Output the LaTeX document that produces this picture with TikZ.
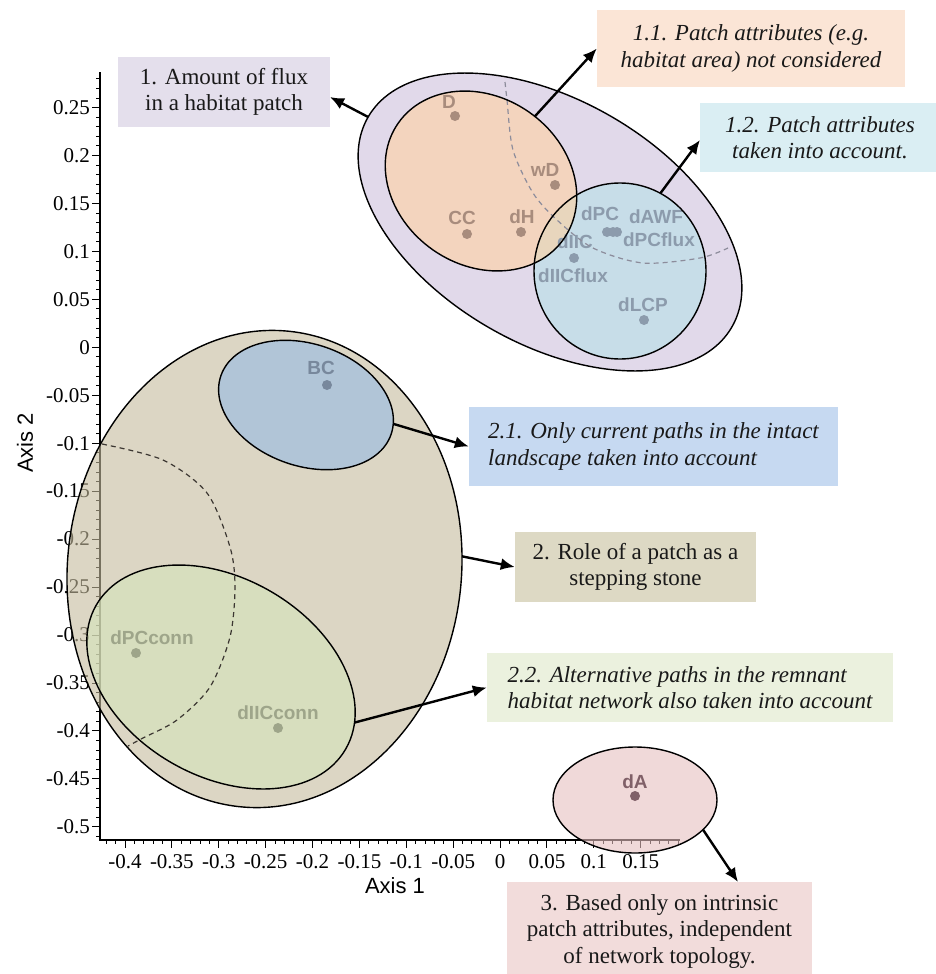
\documentclass[tikz,border=0pt]{standalone}
\usepackage{fontspec}
\setmainfont{Liberation Serif}
\newfontfamily\lsans{Liberation Sans}
\usetikzlibrary{arrows.meta}
\definecolor{purpleF}{RGB}{205,193,220}
\definecolor{orangeF}{RGB}{255,210,161}
\definecolor{cyanF}{RGB}{183,225,232}
\definecolor{tanF}{RGB}{198,188,157}
\definecolor{navyF}{RGB}{149,187,229}
\definecolor{greenF}{RGB}{213,228,186}
\definecolor{pinkF}{RGB}{230,193,193}
\definecolor{boxA}{RGB}{228,223,236}
\definecolor{boxAA}{RGB}{251,229,214}
\definecolor{boxAB}{RGB}{218,238,243}
\definecolor{boxBA}{RGB}{198,217,241}
\definecolor{boxB}{RGB}{221,217,196}
\definecolor{boxBB}{RGB}{235,241,222}
\definecolor{boxC}{RGB}{242,220,219}
\definecolor{lblO}{RGB}{168,140,125}
\definecolor{lblB}{RGB}{140,155,172}
\definecolor{lblN}{RGB}{120,136,156}
\definecolor{lblG}{RGB}{158,165,138}
\definecolor{lblP}{RGB}{128,96,104}
\definecolor{dashTop}{RGB}{140,140,155}
\definecolor{dashBot}{RGB}{60,55,50}
\begin{document}
\begin{tikzpicture}[x=1pt,y=-1pt,
  tbox/.style={inner sep=0pt, text=black!90, font=\fontsize{23}{26.5}\selectfont},
  itbox/.style={tbox, font=\fontsize{23}{26.5}\selectfont\itshape},
  ellline/.style={draw=black, line width=1.4pt},
  arr/.style={line width=2.4pt, -{Latex[length=14pt,width=12pt]}},
  ptdot/.style={circle, inner sep=0pt, minimum size=10pt},
  plbl/.style={font=\lsans\bfseries\fontsize{19}{19}\selectfont, inner sep=0pt},
  tk/.style={line width=0.9pt},
  tklbl/.style={font=\fontsize{21}{21}\selectfont, inner sep=0pt},
  dashline/.style={dash pattern=on 5pt off 4pt, line width=1.2pt},
  geoP/.style={shift={(550,222)}, rotate=-30},
  geoO/.style={shift={(481,181)}, rotate=-35},
  geoC/.style={shift={(620,271)}},
  geoT/.style={shift={(264.5,569)}, rotate=-6},
  geoN/.style={shift={(306,405)}, rotate=-19},
  geoG/.style={shift={(221,677)}, rotate=-30},
  geoK/.style={shift={(635,800)}},
]
\useasboundingbox (0,0) rectangle (935,974);
\fill[white] (0,0) rectangle (935,974);

% ---------- axes ----------
\coordinate (O) at (100,840);
\coordinate (Ytop) at (100,72);
\coordinate (Xend) at (680,840);
\draw[line width=1.2pt] (Ytop) -- (O) -- (Xend);
\foreach \m in {-51,...,28} \draw[tk] (100,{347.3-\m*9.59}) -- (96,{347.3-\m*9.59});
\foreach \k/\t in {5/0.25,4/0.2,3/0.15,2/0.1,1/0.05,0/0,-1/-0.05,-2/-0.1,-3/-0.15,-4/-0.2,-5/-0.25,-6/-0.3,-7/-0.35,-8/-0.4,-9/-0.45,-10/-0.5}
  {\draw[tk] (100,{347.3-\k*47.95}) -- (92,{347.3-\k*47.95});
   \node[tklbl,anchor=east] (yl\k) at (90,{347.3-\k*47.95}) {\t};}
\foreach \m in {-42,...,19} \draw[tk] ({500+\m*9.375},840) -- ({500+\m*9.375},844);
\foreach \k/\t in {-8/-0.4,-7/-0.35,-6/-0.3,-5/-0.25,-4/-0.2,-3/-0.15,-2/-0.1,-1/-0.05,0/0,1/0.05,2/0.1,3/0.15}
  {\draw[tk] ({500+\k*46.875},840) -- ({500+\k*46.875},848);
   \node[tklbl] (xl\k) at ({500+\k*46.875},862) {\t};}
\node[font=\lsans\fontsize{22}{22}\selectfont, inner sep=0pt] (ax1) at (395,886) {Axis 1};
\node[font=\lsans\fontsize{22}{22}\selectfont, inner sep=0pt, rotate=90] (ax2) at (25,443) {Axis 2};

% ---------- ellipse fills ----------
\fill[purpleF, fill opacity=.6, geoP] (0,0) ellipse [x radius=210, y radius=122];
\fill[cyanF, fill opacity=.6, geoC] (0,0) ellipse [x radius=86, y radius=88];
\fill[orangeF, fill opacity=.6, geoO] (0,0) ellipse [x radius=101, y radius=84];
\fill[tanF, fill opacity=.6, geoT] (0,0) ellipse [x radius=197, y radius=239];
\fill[navyF, fill opacity=.6, geoN] (0,0) ellipse [x radius=90, y radius=61];
\fill[greenF, fill opacity=.6, geoG] (0,0) ellipse [x radius=144, y radius=99];
\fill[pinkF, fill opacity=.6, geoK] (0,0) ellipse [x radius=82, y radius=53];

% ---------- points ----------
\node[ptdot, fill=lblO] (pD) at (455,116) {};
\node[plbl, text=lblO] (lD) at (449,102) {D};
\node[ptdot, fill=lblO] (pwD) at (555,185) {};
\node[plbl, text=lblO] (lwD) at (545,170) {wD};
\node[ptdot, fill=lblO] (pCC) at (467,234) {};
\node[plbl, text=lblO] (lCC) at (462,218) {CC};
\node[ptdot, fill=lblO] (pdH) at (521,232) {};
\node[plbl, text=lblO] (ldH) at (522,217) {dH};
\node[ptdot, fill=lblB] (pdPC) at (607,232) {};
\node[ptdot, fill=lblB] (pdAWF) at (613,232) {};
\node[ptdot, fill=lblB] (pdPCf) at (617,232) {};
\node[plbl, text=lblB] (ldPC) at (600,214) {dPC};
\node[plbl, text=lblB] (ldAWF) at (656,217) {dAWF};
\node[plbl, text=lblB] (ldPCf) at (659,240) {dPCflux};
\node[ptdot, fill=lblB] (pdIIC) at (574,258) {};
\node[plbl, text=lblB] (ldIIC) at (575,242) {dIIC};
\node[plbl, text=lblB] (ldIICf) at (573,276) {dIICflux};
\node[ptdot, fill=lblB] (pdLCP) at (644,320) {};
\node[plbl, text=lblB] (ldLCP) at (643,305) {dLCP};
\node[ptdot, fill=lblN] (pBC) at (327,385) {};
\node[plbl, text=lblN] (lBC) at (321,368) {BC};
\node[ptdot, fill=lblG] (pdPCc) at (136,653) {};
\node[plbl, text=lblG] (ldPCc) at (152,638) {dPCconn};
\node[ptdot, fill=lblG] (pdIICc) at (278,728) {};
\node[plbl, text=lblG] (ldIICc) at (278,713) {dIICconn};
\node[ptdot, fill=lblP] (pdA) at (635,796) {};
\node[plbl, text=lblP] (ldA) at (635,782) {dA};

% ---------- dashed arcs ----------
\draw[dashline, dashTop] plot[smooth] coordinates {(505,82) (507,100) (513,150) (533,193) (557,220) (593,248) (643,263) (700,258) (728,248)};
\draw[dashline, dashBot] plot[smooth] coordinates {(102,444) (163,460) (207,493) (230,547) (235,587) (230,637) (210,687) (177,720) (143,738) (128,746)};

% ---------- ellipse outlines ----------
\draw[ellline, geoP] (0,0) ellipse [x radius=210, y radius=122];
\draw[ellline, geoC] (0,0) ellipse [x radius=86, y radius=88];
\draw[ellline, geoO] (0,0) ellipse [x radius=101, y radius=84];
\draw[ellline, geoT] (0,0) ellipse [x radius=197, y radius=239];
\draw[ellline, geoN] (0,0) ellipse [x radius=90, y radius=61];
\draw[ellline, geoG] (0,0) ellipse [x radius=144, y radius=99];
\draw[ellline, geoK] (0,0) ellipse [x radius=82, y radius=53];

% ---------- boxes ----------
\node[tbox, fill=boxA, minimum width=212, minimum height=70, align=center] (b1) at (224,92)
  {1. Amount of flux\\in a habitat patch};
\node[itbox, fill=boxAA, minimum width=308, minimum height=77, align=center] (b11) at (751,48.5)
  {1.1. Patch attributes (e.g.\\habitat area) not considered};
\node[itbox, fill=boxAB, minimum width=240, minimum height=69, align=center] (b12) at (820,137.5)
  {1.2. Patch attributes\\taken into account.};
\node[itbox, fill=boxBA, minimum width=369, minimum height=79, align=left] (b21) at (653.5,446.5)
  {2.1. Only current paths in the intact\\landscape taken into account};
\node[tbox, fill=boxB, minimum width=241, minimum height=70, align=center] (b2) at (635.5,567)
  {2. Role of a patch as a\\stepping stone};
\node[itbox, fill=boxBB, minimum width=406, minimum height=69, align=left] (b22) at (690,687.5)
  {2.2. Alternative paths in the remnant\\habitat network also taken into account};
\node[tbox, fill=boxC, minimum width=305, minimum height=98, align=center] (b3) at (659.5,931)
  {3. Based only on intrinsic\\patch attributes, independent\\of network topology.};

% ---------- arrows ----------
\path[geoP] (180:210 and 122) coordinate (sP);
\path[geoO] (-86:101 and 84) coordinate (sO);
\path[geoC] (-62:86 and 88) coordinate (sC);
\path[geoN] (-10:90 and 61) coordinate (sN);
\path[geoT] (-8:197 and 239) coordinate (sT);
\path[geoG] (-16:144 and 99) coordinate (sG);
\path[geoK] (34:82 and 53) coordinate (sK);
\coordinate (tP) at (330,97);
\coordinate (tC) at (700,140);
\coordinate (tK) at (738,882);
\draw[arr] (sP) -- (tP);
\draw[arr] (sO) -- (b11.west);
\draw[arr] (sC) -- (tC);
\draw[arr] (sN) -- (b21.west);
\draw[arr] (sT) -- (b2.west);
\draw[arr] (sG) -- (b22.west);
\draw[arr] (sK) -- (tK);
\end{tikzpicture}
\end{document}
